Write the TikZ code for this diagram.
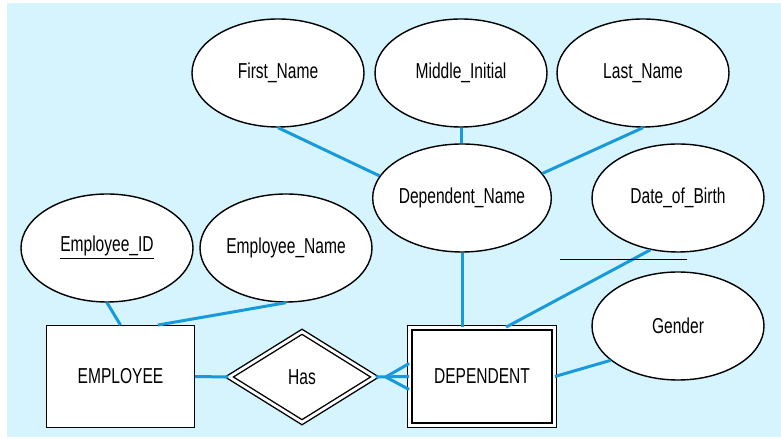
\documentclass[tikz,border=0pt]{standalone}
\usepackage{fontspec}
\setmainfont{Liberation Sans}[FakeStretch=0.72]
\usepackage{tikz}
\usetikzlibrary{positioning, shapes, arrows.meta, calc}

\definecolor{bgblue}{RGB}{214,244,254}
\definecolor{linkblue}{RGB}{24,154,218}

\tikzset{
  attr/.style={ellipse, draw, line width=0.8pt, fill=white, minimum width=3.44cm, minimum height=2.16cm, inner sep=0pt},
  entity/.style={rectangle, draw, line width=0.8pt, fill=white, minimum width=2.95cm, minimum height=2.03cm},
  weakentity/.style={entity, double, line width=0.7pt, double distance=1.8pt, minimum width=2.89cm, minimum height=1.95cm},
  rel/.style={diamond, draw, double, double distance=1.6pt, line width=0.8pt, fill=white, minimum width=2.92cm, minimum height=1.82cm, inner sep=0pt},
  link/.style={draw=linkblue, line width=1.7pt}
}

\begin{document}
\begin{tikzpicture}[font=\fontsize{12.3}{14}\selectfont]
                  \useasboundingbox (0,0) rectangle (15.62,8.78);
                  \fill[bgblue] (0.14,0.04) rectangle (15.62,8.72);

                  % Nodes
                  \node[attr] (fname) at (5.56,7.32) {First\_Name};
                  \node[attr] (mname) at (9.22,7.32) {Middle\_Initial};
                  \node[attr] (lname) at (12.86,7.32) {Last\_Name};
                  \node[attr] (dname) at (9.24,4.82) {Dependent\_Name};
                  \node[attr] (dob) at (13.56,4.82) {Date\_of\_Birth};
                  \node[attr] (eid) at (2.14,3.82) {\underline{Employee\_ID}};
                  \node[attr] (ename) at (5.72,3.82) {Employee\_Name};
                  \node[attr] (gender) at (13.56,2.26) {Gender};
                  \node[entity] (emp) at (2.41,1.25) {EMPLOYEE};
                  \node[rel] (has) at (6.04,1.24) {Has};
                  \node[weakentity] (dep) at (9.64,1.25) {DEPENDENT};
                  \coordinate (fork) at ($(has.east)+(0.2,0)$);

                  % Links
                  \draw[link] (fname.south) -- (dname.165);
                  \draw[link] (mname.south) -- (mname.south |- dname.north);
                  \draw[link] (lname.south) -- (dname.17);
                  \draw[link] (dname.south) -- (dname.south |- dep.north);
                  \draw[link] (dob.242) -- (dep.64);
                  \draw[link] (gender.207) -- (dep.east);
                  \draw[link] (eid.south) -- (emp.north);
                  \draw[link] (ename.south) -- (emp.54);
                  \draw[link] (emp.east) -- (has.west);
                  \draw[link] (has.east) -- (dep.west);
                  \foreach \s in {-0.26,0.26}
                  \draw[link] (fork) -- ($(dep.west)+(0,\s)$);

                  \draw[line width=0.5pt] (11.2,3.6) -- (13.74,3.6);
              \end{tikzpicture}
\end{document}
